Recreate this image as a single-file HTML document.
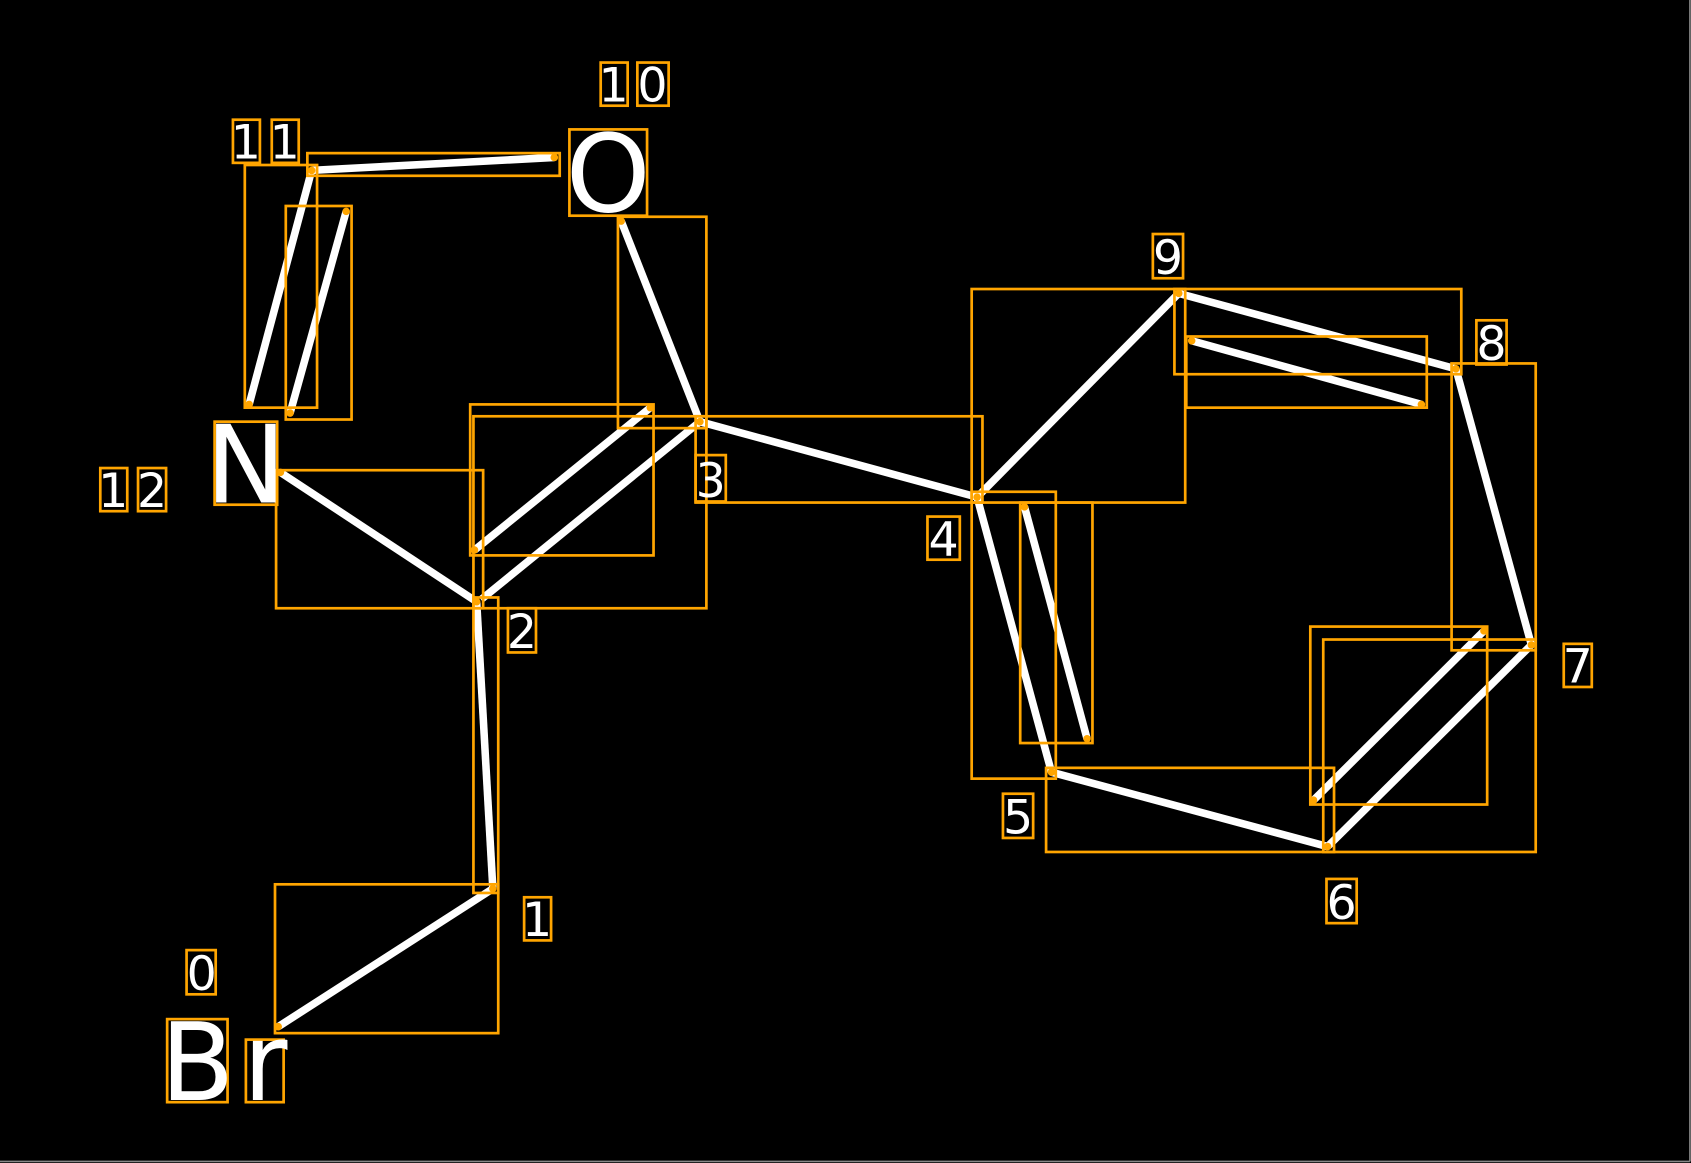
<!DOCTYPE html>
<html><head><meta charset="utf-8"><style>
html,body{margin:0;padding:0;background:#000;}
svg{display:block;}
text{font-family:"DejaVu Sans","Liberation Sans",sans-serif;fill:#fff;}
</style></head><body>
<svg width="1691" height="1163" viewBox="0 0 1568 1078.4" xmlns="http://www.w3.org/2000/svg">
<rect x="0" y="0" width="1568" height="1078.4" fill="#000"/>
<line x1="1567" y1="0" x2="1567" y2="1077" stroke="#888" stroke-width="1.5"/>
<line x1="0" y1="1077" x2="1567" y2="1077" stroke="#888" stroke-width="1.5"/>
<g stroke="#fff" stroke-width="7" stroke-linecap="butt" fill="none">
<line x1="258" y1="952" x2="457" y2="824"/>
<line x1="457" y1="824" x2="442" y2="558"/>
<line x1="442" y1="558" x2="260" y2="438"/>
<line x1="446" y1="556" x2="649" y2="391"/>
<line x1="440" y1="510" x2="603" y2="378"/>
<line x1="649" y1="391" x2="576" y2="205"/>
<line x1="649" y1="391" x2="906" y2="461"/>
<line x1="906" y1="461" x2="1093" y2="272"/>
<line x1="1093" y1="272" x2="1350" y2="342"/>
<line x1="1105" y1="316" x2="1318" y2="375"/>
<line x1="1350" y1="342" x2="1420" y2="598"/>
<line x1="1420" y1="598" x2="1231" y2="785"/>
<line x1="1376" y1="585" x2="1218" y2="742"/>
<line x1="1231" y1="785" x2="975" y2="716"/>
<line x1="975" y1="716" x2="906" y2="461"/>
<line x1="1008" y1="685" x2="950" y2="470"/>
<line x1="514" y1="146" x2="289" y2="158"/>
<line x1="289" y1="158" x2="231" y2="375"/>
<line x1="321" y1="196" x2="269" y2="383"/>
</g>
<g stroke="#FFA500" stroke-width="2.5" fill="none">
<rect x="227" y="153" width="67" height="225"/>
<rect x="265" y="191" width="61" height="198"/>
<rect x="285" y="142" width="234" height="21"/>
<rect x="573" y="201" width="82" height="196"/>
<rect x="436" y="375" width="170" height="140"/>
<rect x="439" y="386" width="216" height="178"/>
<rect x="645" y="386" width="266" height="80"/>
<rect x="256" y="436" width="192" height="128"/>
<rect x="439" y="554" width="23" height="274"/>
<rect x="255" y="820" width="207" height="138"/>
<rect x="901" y="268" width="198" height="198"/>
<rect x="1089" y="268" width="266" height="79"/>
<rect x="1100" y="312" width="223" height="66"/>
<rect x="1346" y="337" width="78" height="266"/>
<rect x="1227" y="593" width="197" height="197"/>
<rect x="1215" y="581" width="164" height="165"/>
<rect x="970" y="712" width="267" height="78"/>
<rect x="901" y="456" width="78" height="266"/>
<rect x="946" y="466" width="67" height="223"/>
<rect x="155" y="945" width="56" height="77"/>
<rect x="228" y="964" width="35" height="58"/>
<rect x="199" y="391" width="58" height="77"/>
<rect x="528" y="120" width="72" height="80"/>
<rect x="173" y="881" width="27" height="41"/>
<rect x="486" y="832" width="25" height="40"/>
<rect x="471" y="564" width="26" height="41"/>
<rect x="645" y="422" width="28" height="43"/>
<rect x="860" y="479" width="30" height="40"/>
<rect x="930" y="736" width="28" height="41"/>
<rect x="1230" y="815" width="28" height="41"/>
<rect x="1450" y="597" width="26" height="40"/>
<rect x="1369" y="297" width="28" height="41"/>
<rect x="1069" y="217" width="28" height="41"/>
<rect x="557" y="58" width="25" height="40"/>
<rect x="591" y="58" width="29" height="40"/>
<rect x="216" y="111" width="25" height="40"/>
<rect x="252" y="111" width="25" height="40"/>
<rect x="93" y="434" width="25" height="40"/>
<rect x="128" y="434" width="26" height="40"/>
</g>
<g fill="#FFA500">
<circle cx="258" cy="952" r="3.5"/><circle cx="457" cy="824" r="3.5"/><circle cx="442" cy="558" r="3.5"/>
<circle cx="260" cy="438" r="3.5"/><circle cx="649" cy="391" r="3.5"/><circle cx="440" cy="510" r="3.5"/>
<circle cx="603" cy="378" r="3.5"/><circle cx="576" cy="205" r="3.5"/><circle cx="906" cy="461" r="3.5"/>
<circle cx="1093" cy="272" r="3.5"/><circle cx="1350" cy="342" r="3.5"/><circle cx="1105" cy="316" r="3.5"/>
<circle cx="1318" cy="375" r="3.5"/><circle cx="1420" cy="598" r="3.5"/><circle cx="1231" cy="785" r="3.5"/>
<circle cx="1376" cy="585" r="3.5"/><circle cx="1218" cy="742" r="3.5"/><circle cx="975" cy="716" r="3.5"/>
<circle cx="1008" cy="685" r="3.5"/><circle cx="950" cy="470" r="3.5"/><circle cx="514" cy="146" r="3.5"/>
<circle cx="289" cy="158" r="3.5"/><circle cx="231" cy="375" r="3.5"/><circle cx="321" cy="196" r="3.5"/>
<circle cx="269" cy="383" r="3.5"/>
</g>
<g font-size="100" text-anchor="middle">
<text x="183" y="1020">B</text>
<text x="246" y="1020">r</text>
<text x="228" y="466">N</text>
<text x="564" y="196">O</text>
</g>
<g font-size="44" text-anchor="middle">
<text x="187" y="918">0</text>
<text x="498" y="868">1</text>
<text x="484" y="601">2</text>
<text x="659" y="461">3</text>
<text x="875" y="515">4</text>
<text x="944" y="773">5</text>
<text x="1244" y="852">6</text>
<text x="1463" y="633">7</text>
<text x="1383" y="334">8</text>
<text x="1083" y="254">9</text>
<text x="569" y="94">1</text>
<text x="605" y="94">0</text>
<text x="228" y="147">1</text>
<text x="264" y="147">1</text>
<text x="105" y="470">1</text>
<text x="141" y="470">2</text>
</g>
</svg>
</body></html>
